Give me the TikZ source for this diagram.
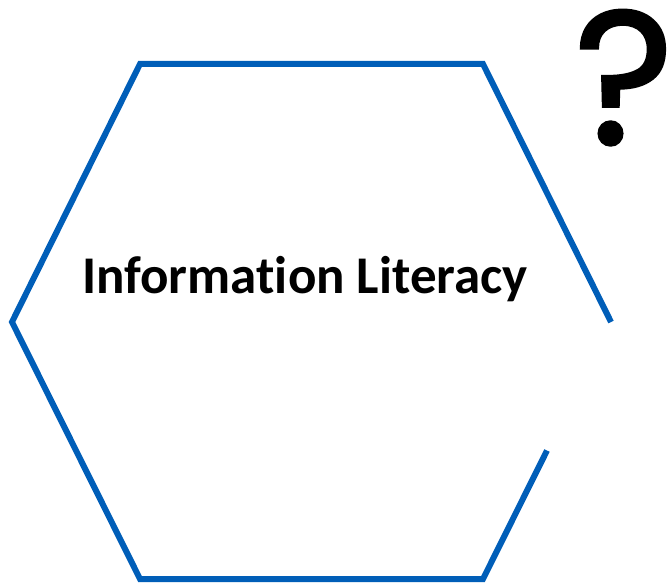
\documentclass[tikz,border=0pt]{standalone}
\usepackage{fontspec}
\setmainfont[Ligatures=NoCommon]{Carlito}
\newfontfamily\qfont[FakeBold=1.5]{Poppins}
\usetikzlibrary{positioning,calc}
\definecolor{hexblue}{RGB}{0,94,184}

\begin{document}
\begin{tikzpicture}
	[x=1pt,y=-1pt,
	every node/.style={inner sep=0pt,outer sep=0pt},
	hexline/.style={draw=hexblue,line width=6pt,line join=miter},
	title/.style={font=\fontsize{53}{53}\selectfont\bfseries},
	query/.style={font=\qfont\fontsize{190}{190}\selectfont}]
	\useasboundingbox (0,0) rectangle (669,586);
	% corners of the hexagon
	\coordinate (tl) at (140,64);
	\coordinate (tr) at (483,64);
	\coordinate (rv) at (611,322);
	\coordinate (br) at (483,579);
	\coordinate (bl) at (140,579);
	\coordinate (lv) at (12,322);
	\coordinate (gap) at ($(rv)!0.5!(br)$);
	\draw[hexline] (rv) -- (tr) -- (tl) -- (lv) -- (bl) -- (br) -- (gap);
	\node[title] (lit) at (305,279) {Information Literacy};
	\node[query,anchor=north] (ask) at (624,10) {?};
\end{tikzpicture}
\end{document}
